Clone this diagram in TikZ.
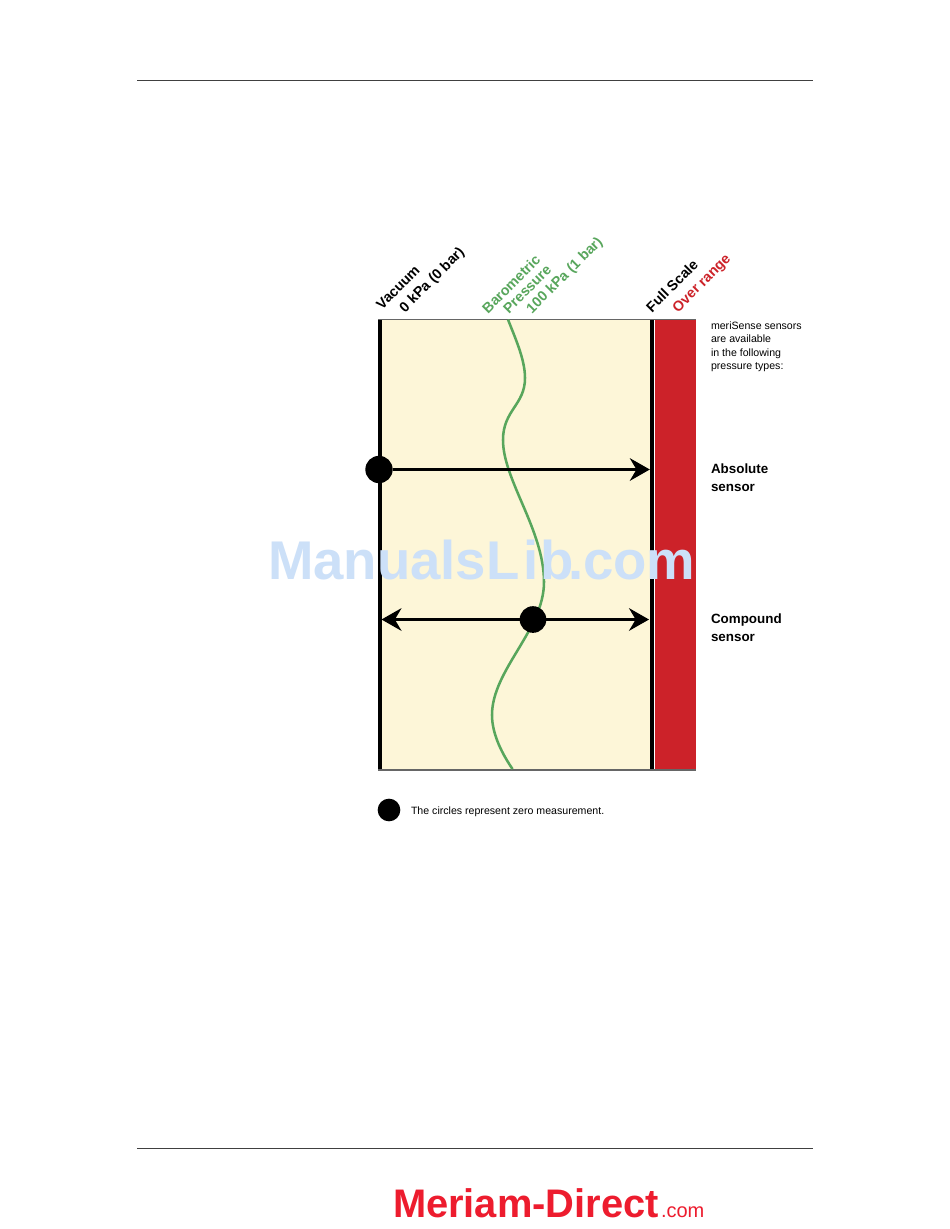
\documentclass[tikz,border=0pt]{standalone}
\usepackage{fontspec}
\setmainfont{Liberation Sans}
\usetikzlibrary{arrows.meta}
\definecolor{cream}{HTML}{FDF6D8}
\definecolor{barred}{HTML}{CC2229}
\definecolor{baro}{HTML}{58A65C}
\definecolor{logored}{HTML}{ED1C2E}
\definecolor{wmark}{HTML}{CCE0F8}
\tikzset{
  x=0.75pt,y=-0.75pt,
  zerodot/.style={circle,fill=black,inner sep=0pt,outer sep=0pt},
  rangearrow/.style={line width=2pt,black,-{Stealth[length=15pt,width=17pt,inset=5pt]}},
  dblarrow/.style={line width=2pt,black,{Stealth[length=15pt,width=17pt,inset=5pt]}-{Stealth[length=15pt,width=17pt,inset=5pt]}},
  slant/.style={rotate=45,anchor=base west,inner sep=0pt,outer sep=0pt,font=\fontsize{10.7pt}{12pt}\selectfont\bfseries},
  side/.style={anchor=base west,inner sep=0pt,outer sep=0pt,font=\fontsize{10.05pt}{12pt}\selectfont\bfseries},
  small/.style={anchor=base west,inner sep=0pt,outer sep=0pt,font=\fontsize{7.95pt}{10pt}\selectfont},
  rule/.style={line width=0.75pt,draw=black!75},
  edge/.style={line width=0.8pt,draw=black!60},
}
\begin{document}
\begin{tikzpicture}
\useasboundingbox (0,0) rectangle (950,1229);
\fill[white] (0,0) rectangle (950,1229);
% page rules
\coordinate (ruleAL) at (137,80.5); \coordinate (ruleAR) at (812.5,80.5);
\coordinate (ruleBL) at (137,1148.5); \coordinate (ruleBR) at (812.5,1148.5);
\draw[rule] (ruleAL) -- (ruleAR);
\draw[rule] (ruleBL) -- (ruleBR);
% field
\fill[cream] (378,319) rectangle (650,770);
\fill[barred] (655,319) rectangle (695.5,770);
\fill[black] (378,319) rectangle (381.5,770);
\fill[black] (649.5,319) rectangle (653.5,770);
\coordinate (rightEdge) at (649.8,469.5);
\coordinate (fTL) at (378,319.5); \coordinate (fTR) at (696,319.5);
\coordinate (fBL) at (378,770); \coordinate (fBR) at (696,770);
\draw[edge] (fTL) -- (fTR);
\draw[edge] (fBL) -- (fBR);
% watermark is laid over the bars, so it comes after them; the curve stays readable beside it
% barometric curve
\draw[baro,line width=1.9pt] (508,319.5) .. controls (516,340) and (525,360) .. (525,378)
  .. controls (525,405) and (503,410) .. (503,440)
  .. controls (503,480) and (544,530) .. (544,582)
  .. controls (544,630) and (492,670) .. (492,715)
  .. controls (492,735) and (503,755) .. (512.5,769);
% dots
\node[zerodot,minimum size=20.5pt] (absdot) at (379,469.5) {};
\node[zerodot,minimum size=20pt] (cmpdot) at (533,619.5) {};
\node[zerodot,minimum size=17pt] (legdot) at (389,810) {};
% arrows
\draw[rangearrow] (absdot) -- (rightEdge);
\coordinate (cmpL) at (381.5,619.5);
\coordinate (cmpR) at (649,619.5);
\draw[dblarrow] (cmpL) -- (cmpR);
% slanted labels
\node[slant] (lvac) at (382,310) {Vacuum};
\node[slant] (lkpa) at (405,313) {0 kPa (0 bar)};
\node[slant,text=baro] (lbar) at (488,314) {Barometric};
\node[slant,text=baro] (lpre) at (509,314) {Pressure};
\node[slant,text=baro] (lhun) at (532,314) {100 kPa (1 bar)};
\node[slant] (lful) at (652,313) {Full Scale};
\node[slant,text=barred] (lovr) at (678,313) {Over range};
% right labels
\node[small] (t1) at (711,329) {meriSense sensors};
\node[small] (t2) at (711,342.5) {are available};
\node[small] (t3) at (711,356) {in the following};
\node[small] (t4) at (711,369.5) {pressure types:};
\node[side] (a1) at (711,473) {Absolute};
\node[side] (a2) at (711,491) {sensor};
\node[side] (c1) at (711,623.5) {Compound};
\node[side] (c2) at (711,641.5) {sensor};
\node[small] (leg) at (411,814) {The circles represent zero measurement.};
% watermark
\node[anchor=base west,inner sep=0pt,outer sep=0pt,text=wmark,font=\fontsize{40.9pt}{48pt}\selectfont\bfseries] (wm) at (268,579) {ManualsL\kern3pt i\kern1.5pt b\kern-4.5pt .com};
% logo
\node[anchor=base west,inner sep=0pt,outer sep=0pt,text=logored,font=\fontsize{29.9pt}{34pt}\selectfont\bfseries] (logo) at (393,1217.5) {Meriam-Direct};
\node[anchor=base west,inner sep=0pt,outer sep=0pt,text=logored,font=\fontsize{15pt}{18pt}\selectfont] (logoc) at (661,1217.5) {.com};
\end{tikzpicture}
\end{document}
